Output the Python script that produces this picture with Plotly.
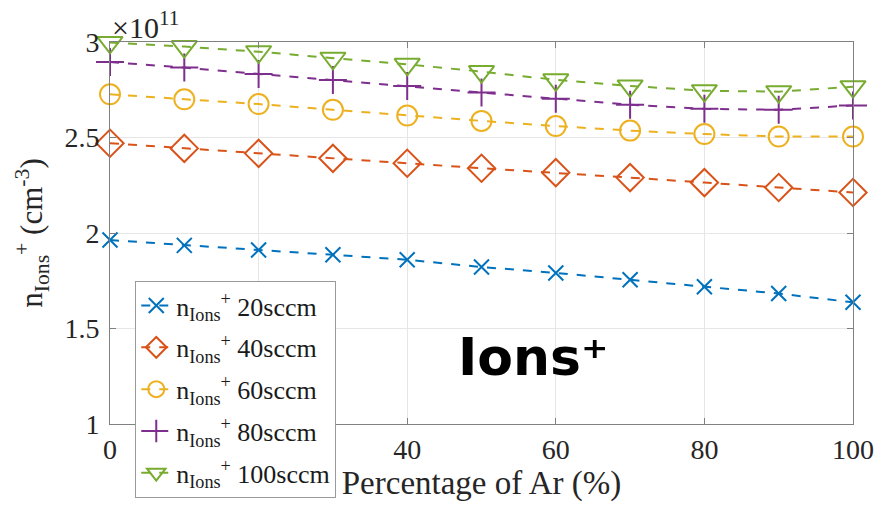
import plotly.graph_objects as go

ar_pct = [0, 10, 20, 30, 40, 50, 60, 70, 80, 90, 100]
n_20 = [1.963, 1.935, 1.911, 1.886, 1.860, 1.822, 1.791, 1.755, 1.719, 1.683, 1.637]
n_40 = [2.470, 2.443, 2.417, 2.391, 2.365, 2.339, 2.316, 2.290, 2.264, 2.238, 2.212]
n_60 = [2.726, 2.700, 2.675, 2.645, 2.615, 2.587, 2.560, 2.536, 2.518, 2.505, 2.505]
n_80 = [2.895, 2.866, 2.833, 2.801, 2.770, 2.736, 2.703, 2.671, 2.650, 2.645, 2.668]
n_100 = [2.998, 2.976, 2.949, 2.915, 2.883, 2.845, 2.802, 2.770, 2.745, 2.740, 2.766]

labels = ["20sccm", "40sccm", "60sccm", "80sccm", "100sccm"]
series = [n_20, n_40, n_60, n_80, n_100]
colors = ["#0072BD", "#D95319", "#EDB120", "#7E2F8E", "#77AC30"]
symbols = ["x-thin-open", "diamond-open", "circle-open", "cross-thin-open", "triangle-down-open"]
sizes = [15, 21, 20, 20, 22]

fig = go.Figure()
for lab, ys, c, s, sz in zip(labels, series, colors, symbols, sizes):
    fig.add_trace(go.Scatter(
        x=ar_pct, y=ys, mode="lines+markers",
        name="n<sub>Ions</sub><sup>+</sup> " + lab,
        legendgroup=lab,
        cliponaxis=False,
        line=dict(color=c, width=2, dash="dash"),
        marker=dict(symbol=s, size=sz, color=c, line=dict(color=c, width=2)),
    ))

serif = "Liberation Serif, Times New Roman, serif"
fig.update_layout(
    width=879, height=506,
    margin=dict(l=110, r=26, t=42, b=82, autoexpand=False),
    paper_bgcolor="white", plot_bgcolor="white",
    font=dict(family=serif, size=28, color="#262626"),
    showlegend=True,
    legend=dict(
        x=0.034, y=0.374, xanchor="left", yanchor="top",
        bgcolor="white", bordercolor="#9a9a9a", borderwidth=1,
        font=dict(family=serif, size=26, color="#1a1a1a"),
        tracegroupgap=5, itemwidth=30,
    ),
    xaxis=dict(
        range=[0, 100], tickvals=[0, 20, 40, 60, 80, 100],
        automargin=False,
        showgrid=True, gridcolor="#e6e6e6", gridwidth=1,
        showline=True, linecolor="#808080", linewidth=1, mirror="ticks",
        ticks="inside", ticklen=6, tickcolor="#808080",
        zeroline=False,
        tickfont=dict(family=serif, size=28, color="#262626"),
        title=dict(text="Percentage of Ar (%)", font=dict(family=serif, size=33, color="#262626"), standoff=0),
    ),
    yaxis=dict(
        range=[1, 3], tickvals=[1, 1.5, 2, 2.5, 3], ticktext=["1", "1.5", "2", "2.5", "3"],
        automargin=False,
        ticklabelstandoff=4,
        showgrid=True, gridcolor="#e6e6e6", gridwidth=1,
        showline=True, linecolor="#808080", linewidth=1, mirror="ticks",
        ticks="inside", ticklen=6, tickcolor="#808080",
        zeroline=False,
        tickfont=dict(family=serif, size=28, color="#262626"),
        title=dict(text="n<sub>Ions</sub><sup>+</sup> (cm<sup>-3</sup>)", font=dict(family=serif, size=31, color="#262626"), standoff=12),
    ),
)

fig.add_annotation(
    xref="paper", yref="paper", x=0.0, y=1.0, xanchor="left", yanchor="bottom",
    text="×10<sup>11</sup>", showarrow=False,
    font=dict(family=serif, size=30, color="#262626"), xshift=0, yshift=-4,
)
fig.add_annotation(
    xref="paper", yref="paper", x=0.466, y=0.175, xanchor="left", yanchor="middle",
    text="<b>Ions⁺</b>", showarrow=False,
    font=dict(family="DejaVu Sans", size=52, color="black"),
)

fig.write_html("out.html")
